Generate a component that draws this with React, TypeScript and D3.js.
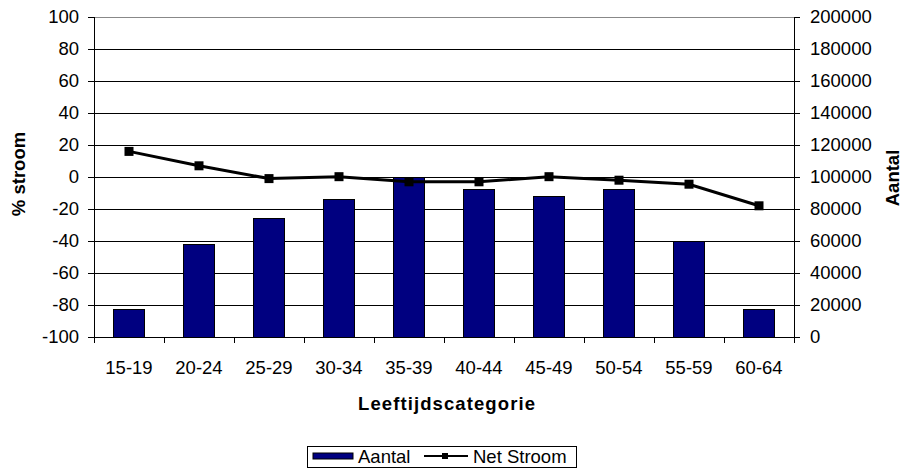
import React from 'react';
import * as d3 from 'd3';

const categories = ['15-19', '20-24', '25-29', '30-34', '35-39', '40-44', '45-49', '50-54', '55-59', '60-64'];
const aantal = [17000, 58000, 74000, 86000, 99600, 92000, 88000, 92000, 60000, 17500];
const netStroom = [16, 7, -1, 0.2, -3, -3, 0.2, -2, -4.5, -18];
const leftTicks = [-100, -80, -60, -40, -20, 0, 20, 40, 60, 80, 100];
const rightTicks = [0, 20000, 40000, 60000, 80000, 100000, 120000, 140000, 160000, 180000, 200000];

const W = 902;
const H = 468;
const L = 94;
const R = 794;
const T = 17;
const B = 337;
const FONT = 'Liberation Sans, Arial, sans-serif';
const FS = 18.5;

export default function App() {
  const x = d3.scaleBand<string>().domain(categories).range([L, R]).paddingInner(0).paddingOuter(0);
  const yL = d3.scaleLinear().domain([-100, 100]).range([B, T]);
  const yR = d3.scaleLinear().domain([0, 200000]).range([B, T]);
  const bw = x.bandwidth();
  const barW = bw * 0.43;
  const line = d3
    .line<number>()
    .x((_, i) => (x(categories[i]) as number) + bw / 2)
    .y((d) => yL(d));

  return (
    <svg width={W} height={H} style={{ position: 'absolute', left: 0, top: 0, background: '#fff' }} fontFamily={FONT}>
      <rect x={0} y={0} width={W} height={H} fill="#fff" />
      {/* gridlines */}
      {leftTicks.map((t) => (
        <line key={'g' + t} x1={L} x2={R} y1={yL(t)} y2={yL(t)} stroke={t === 100 ? '#888' : '#000'} strokeWidth={1} shapeRendering="crispEdges" />
      ))}
      {/* bars */}
      {aantal.map((v, i) => {
        const cx = (x(categories[i]) as number) + bw / 2;
        return (
          <rect
            key={'b' + i}
            x={cx - barW / 2}
            y={yR(v)}
            width={barW}
            height={B - yR(v)}
            fill="#000080"
            stroke="#000"
            strokeWidth={1}
            shapeRendering="crispEdges"
          />
        );
      })}
      {/* axes */}
      <line x1={L} x2={L} y1={T} y2={B} stroke="#000" strokeWidth={1} shapeRendering="crispEdges" />
      <line x1={R} x2={R} y1={T} y2={B} stroke="#000" strokeWidth={1} shapeRendering="crispEdges" />
      <line x1={L} x2={R} y1={B} y2={B} stroke="#000" strokeWidth={1} shapeRendering="crispEdges" />
      {leftTicks.map((t) => (
        <g key={'lt' + t}>
          <line x1={L - 6} x2={L} y1={yL(t)} y2={yL(t)} stroke="#000" shapeRendering="crispEdges" />
          <text x={79} y={yL(t)} dy="0.35em" textAnchor="end" fontSize={FS} fill="#000">
            {t}
          </text>
        </g>
      ))}
      {rightTicks.map((t) => (
        <g key={'rt' + t}>
          <line x1={R} x2={R + 6} y1={yR(t)} y2={yR(t)} stroke="#000" shapeRendering="crispEdges" />
          <text x={810} y={yR(t)} dy="0.35em" textAnchor="start" fontSize={FS} fill="#000">
            {t}
          </text>
        </g>
      ))}
      {categories.map((c, i) => (
        <g key={'c' + c}>
          <line x1={x(c) as number} x2={x(c) as number} y1={B} y2={B + 6} stroke="#000" shapeRendering="crispEdges" />
          {i === categories.length - 1 && (
            <line x1={R} x2={R} y1={B} y2={B + 6} stroke="#000" shapeRendering="crispEdges" />
          )}
          <text x={(x(c) as number) + bw / 2} y={374} textAnchor="middle" fontSize={FS} fill="#000">
            {c}
          </text>
        </g>
      ))}
      {/* line series */}
      <path d={line(netStroom) || ''} fill="none" stroke="#000" strokeWidth={3} />
      {netStroom.map((v, i) => {
        const cx = (x(categories[i]) as number) + bw / 2;
        return <rect key={'m' + i} x={cx - 4.5} y={yL(v) - 4.5} width={9} height={9} fill="#000" />;
      })}
      {/* axis titles */}
      <text transform={`translate(25,174) rotate(-90)`} textAnchor="middle" fontSize={FS} fontWeight="bold" fill="#000">
        % stroom
      </text>
      <text transform={`translate(899,178) rotate(-90)`} textAnchor="middle" fontSize={FS} fontWeight="bold" fill="#000">
        Aantal
      </text>
      <text x={358} y={410} textLength={177} lengthAdjust="spacing" fontSize={FS} fontWeight="bold" fill="#000">
        Leeftijdscategorie
      </text>
      {/* legend */}
      <rect x={307.5} y={446.5} width={269} height={21} fill="#fff" stroke="#000" strokeWidth={1} />
      <rect x={313} y={453} width={40} height={6} fill="#000080" stroke="#000" strokeWidth={1} />
      <text x={358} y={463} fontSize={FS} fill="#000">
        Aantal
      </text>
      <line x1={424} x2={468} y1={456} y2={456} stroke="#000" strokeWidth={2} />
      <rect x={442} y={453} width={6} height={6} fill="#000" />
      <text x={473} y={463} fontSize={FS} fill="#000">
        Net Stroom
      </text>
    </svg>
  );
}
